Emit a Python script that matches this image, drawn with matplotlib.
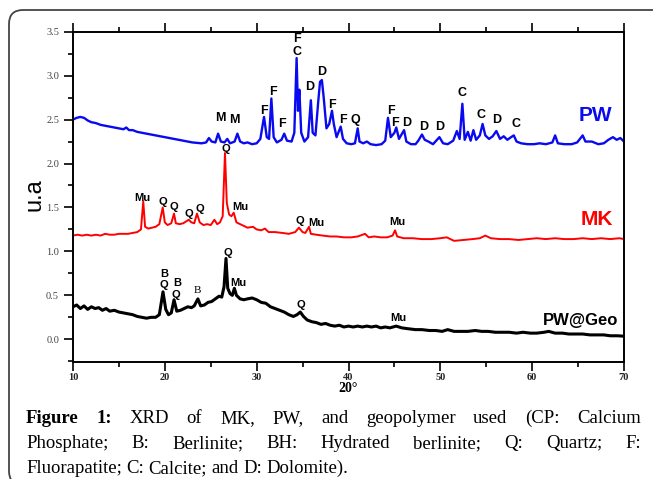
import numpy as np
import matplotlib
matplotlib.use('Agg')
import matplotlib.pyplot as plt
import matplotlib.patches as mpatches
from matplotlib.transforms import IdentityTransform

# PW (blue) pattern
pw_x = [10.0, 10.4, 10.8, 11.2, 11.6, 12.0, 12.5, 13.0, 13.5, 14.0, 14.5, 15.0, 15.5, 15.8, 16.1,
        16.5, 17.0, 17.5, 18.0, 18.5, 19.0, 19.5, 20.0, 20.5, 21.0, 21.5, 22.0, 22.5, 23.0, 23.5,
        24.0, 24.5, 24.8, 25.1, 25.5, 25.8, 26.1, 26.5, 26.8, 27.1, 27.6, 27.9, 28.2, 28.6, 29.0,
        29.5, 30.0, 30.4, 30.8, 31.1, 31.35, 31.6, 31.85, 32.2, 32.7, 33.0, 33.3, 33.8, 34.1, 34.35,
        34.5, 34.65, 34.85, 35.2, 35.6, 35.9, 36.1, 36.4, 36.7, 36.9, 37.1, 37.3, 37.6, 37.9, 38.2,
        38.4, 38.7, 39.15, 39.4, 39.8, 40.3, 40.7, 41.0, 41.2, 41.6, 42.0, 42.4, 43.0, 43.6, 44.0,
        44.3, 44.6, 45.0, 45.2, 45.5, 46.05, 46.3, 46.8, 47.3, 47.6, 48.0, 48.3, 48.7, 49.2, 49.9,
        50.3, 50.8, 51.4, 51.8, 52.1, 52.4, 52.65, 53.0, 53.3, 53.6, 53.9, 54.3, 54.6, 54.9, 55.3,
        55.7, 56.1, 56.5, 56.9, 57.3, 57.7, 58.0, 58.3, 58.8, 59.5, 60.2, 60.8, 61.5, 62.2, 62.5,
        62.8, 63.5, 64.3, 64.9, 65.5, 65.8, 66.5, 67.2, 67.8, 68.3, 68.8, 69.2, 69.6, 70.0]
pw_y = [2.50, 2.52, 2.53, 2.52, 2.49, 2.47, 2.46, 2.44, 2.43, 2.42, 2.41, 2.40, 2.39, 2.41, 2.38,
        2.38, 2.36, 2.35, 2.34, 2.33, 2.32, 2.31, 2.30, 2.29, 2.28, 2.27, 2.26, 2.25, 2.24, 2.235,
        2.23, 2.24, 2.29, 2.25, 2.24, 2.34, 2.25, 2.24, 2.28, 2.23, 2.25, 2.34, 2.25, 2.23, 2.24,
        2.22, 2.23, 2.28, 2.53, 2.30, 2.28, 2.74, 2.30, 2.24, 2.27, 2.34, 2.26, 2.25, 2.35, 3.20,
        2.60, 2.84, 2.35, 2.25, 2.30, 2.72, 2.35, 2.32, 2.70, 2.93, 2.95, 2.75, 2.40, 2.45, 2.60,
        2.45, 2.30, 2.42, 2.28, 2.23, 2.22, 2.23, 2.40, 2.25, 2.23, 2.25, 2.22, 2.21, 2.22, 2.26,
        2.52, 2.30, 2.35, 2.41, 2.28, 2.38, 2.25, 2.22, 2.22, 2.26, 2.33, 2.27, 2.25, 2.22, 2.30,
        2.23, 2.22, 2.26, 2.37, 2.28, 2.68, 2.27, 2.36, 2.26, 2.38, 2.27, 2.32, 2.45, 2.32, 2.28,
        2.31, 2.37, 2.28, 2.31, 2.27, 2.30, 2.32, 2.25, 2.23, 2.22, 2.22, 2.23, 2.22, 2.24, 2.32,
        2.23, 2.22, 2.22, 2.24, 2.32, 2.25, 2.25, 2.22, 2.23, 2.27, 2.30, 2.27, 2.29, 2.25]

# MK (red)
mk_x = [10.0, 10.5, 11.0, 11.5, 12.0, 12.5, 13.0, 13.5, 14.0, 14.5, 15.0, 15.5, 16.0, 16.5, 17.0,
        17.4, 17.65, 17.85, 18.2, 18.6, 19.0, 19.4, 19.77, 20.0, 20.3, 20.7, 21.0, 21.2, 21.6, 22.0,
        22.3, 22.6, 22.9, 23.2, 23.5, 23.8, 24.2, 24.6, 25.0, 25.4, 25.7, 26.0, 26.3, 26.55, 26.75,
        27.0, 27.25, 27.5, 27.8, 28.2, 28.6, 29.0, 29.6, 30.0, 30.5, 30.9, 31.3, 32.0, 32.8, 33.5,
        34.2, 34.6, 35.0, 35.3, 35.7, 35.9, 36.5, 37.2, 38.0, 38.7, 39.5, 40.3, 41.0, 41.8, 42.2,
        42.8, 43.5, 44.2, 44.8, 45.07, 45.3, 46.0, 47.0, 48.0, 49.0, 50.0, 50.7, 51.5, 52.5, 53.5,
        54.3, 54.9, 55.5, 56.5, 57.5, 58.5, 59.5, 60.5, 61.5, 62.5, 63.5, 64.5, 65.5, 66.5, 67.5,
        68.5, 69.5, 70.0]
mk_y = [1.18, 1.19, 1.18, 1.19, 1.18, 1.19, 1.18, 1.20, 1.19, 1.19, 1.20, 1.20, 1.20, 1.21, 1.22,
        1.25, 1.57, 1.28, 1.26, 1.27, 1.28, 1.31, 1.50, 1.33, 1.30, 1.32, 1.43, 1.32, 1.31, 1.32,
        1.34, 1.36, 1.33, 1.32, 1.43, 1.33, 1.30, 1.31, 1.30, 1.36, 1.31, 1.33, 1.40, 2.12, 1.55,
        1.42, 1.40, 1.44, 1.33, 1.31, 1.29, 1.27, 1.28, 1.25, 1.24, 1.26, 1.22, 1.22, 1.21, 1.20,
        1.22, 1.27, 1.22, 1.21, 1.28, 1.20, 1.19, 1.18, 1.17, 1.17, 1.16, 1.16, 1.17, 1.20, 1.16,
        1.17, 1.16, 1.16, 1.18, 1.24, 1.17, 1.15, 1.15, 1.14, 1.14, 1.15, 1.16, 1.12, 1.13, 1.14,
        1.15, 1.18, 1.15, 1.14, 1.14, 1.13, 1.14, 1.15, 1.14, 1.15, 1.14, 1.14, 1.15, 1.14, 1.15,
        1.14, 1.15, 1.14]

# PW@Geo (black)
geo_x = [10.0, 10.4, 10.8, 11.2, 11.6, 12.0, 12.4, 12.8, 13.2, 13.6, 14.0, 14.5, 15.0, 15.5, 16.0,
         16.5, 17.0, 17.5, 18.0, 18.5, 19.0, 19.4, 19.8, 20.1, 20.4, 20.7, 21.0, 21.3, 21.7, 22.1,
         22.5, 22.9, 23.2, 23.6, 23.9, 24.3, 24.7, 25.1, 25.5, 25.9, 26.2, 26.45, 26.66, 26.85, 27.1,
         27.35, 27.57, 27.8, 28.2, 28.6, 29.0, 29.5, 30.0, 30.5, 31.0, 31.5, 32.0, 32.5, 33.0, 33.5,
         34.0, 34.4, 34.75, 35.1, 35.5, 36.0, 36.5, 37.0, 37.5, 38.0, 38.5, 39.0, 39.5, 40.0, 40.5,
         41.0, 41.5, 42.0, 42.5, 43.0, 43.5, 44.0, 44.5, 45.2, 45.8, 46.5, 47.3, 48.0, 48.8, 49.5,
         50.2, 50.8, 51.5, 52.3, 53.0, 53.8, 54.5, 55.2, 56.0, 56.8, 57.5, 58.3, 59.0, 59.8, 60.5,
         61.3, 61.8, 62.5, 63.3, 64.0, 64.8, 65.5, 66.3, 67.0, 67.8, 68.5, 69.3, 70.0]
geo_y = [0.37, 0.39, 0.35, 0.38, 0.34, 0.37, 0.35, 0.36, 0.33, 0.35, 0.32, 0.33, 0.31, 0.30, 0.29,
         0.28, 0.26, 0.25, 0.24, 0.25, 0.25, 0.28, 0.54, 0.34, 0.28, 0.30, 0.45, 0.32, 0.33, 0.35,
         0.37, 0.36, 0.38, 0.46, 0.38, 0.39, 0.42, 0.43, 0.46, 0.49, 0.48, 0.60, 0.92, 0.58, 0.52,
         0.50, 0.58, 0.50, 0.46, 0.45, 0.46, 0.47, 0.45, 0.42, 0.41, 0.37, 0.35, 0.33, 0.31, 0.28,
         0.26, 0.28, 0.31, 0.26, 0.22, 0.20, 0.19, 0.17, 0.18, 0.16, 0.15, 0.16, 0.14, 0.15, 0.14,
         0.15, 0.14, 0.15, 0.14, 0.15, 0.13, 0.14, 0.13, 0.15, 0.13, 0.12, 0.11, 0.11, 0.10, 0.10,
         0.09, 0.11, 0.09, 0.09, 0.09, 0.10, 0.09, 0.09, 0.08, 0.08, 0.08, 0.07, 0.08, 0.07, 0.07,
         0.08, 0.09, 0.07, 0.07, 0.06, 0.06, 0.06, 0.05, 0.05, 0.05, 0.04, 0.04, 0.035]

# phase labels: (text, 2theta, height)
pw_tags = [('M', 26.0, 2.52), ('M', 27.6, 2.49), ('F', 30.8, 2.60), ('F', 31.75, 2.81),
           ('F', 32.8, 2.45), ('F', 34.35, 3.42), ('C', 34.35, 3.27), ('D', 35.8, 2.87),
           ('D', 37.1, 3.04), ('F', 38.2, 2.67), ('F', 39.4, 2.50), ('Q', 40.8, 2.50),
           ('F', 44.6, 2.60), ('F', 45.1, 2.46), ('D', 46.3, 2.46), ('D', 48.15, 2.41),
           ('D', 49.96, 2.41), ('C', 52.4, 2.80), ('C', 54.4, 2.55), ('D', 56.1, 2.49),
           ('C', 58.2, 2.45)]
mk_tags = [('Mu', 17.6, 1.61), ('Q', 19.8, 1.56), ('Q', 21.0, 1.51), ('Q', 22.6, 1.43),
           ('Q', 23.8, 1.48), ('Q', 26.6, 2.16), ('Mu', 28.2, 1.51), ('Q', 34.7, 1.35),
           ('Mu', 36.5, 1.32), ('Mu', 45.3, 1.34)]
geo_tags = [('B', 19.95, 0.74), ('Q', 19.95, 0.62), ('B', 21.4, 0.64), ('Q', 21.2, 0.50),
            ('Q', 26.9, 0.98), ('Mu', 28.0, 0.64), ('Q', 34.8, 0.39), ('Mu', 45.4, 0.24)]
geo_serif_tag = ('B', 23.5, 0.55)

W, H = 653, 479
fig = plt.figure(figsize=(W / 100, H / 100), dpi=100)
ax = fig.add_axes([73 / W, 1 - 361.7 / H, 551 / W, 330 / H])

ax.plot(pw_x, pw_y, color='#0a0af0', lw=1.7)
ax.plot(mk_x, mk_y, color='#ff0000', lw=1.4)
ax.plot(geo_x, geo_y, color='black', lw=2.2)

sans = 'Liberation Sans'
serif = 'Liberation Serif'
for t, x, y in pw_tags:
    ax.text(x, y, t, fontsize=9, fontweight='bold', family=sans, ha='center', va='center')
for t, x, y in mk_tags + geo_tags:
    ax.text(x, y, t, fontsize=8, fontweight='bold', family=sans, ha='center', va='center')
ax.text(geo_serif_tag[1], geo_serif_tag[2], geo_serif_tag[0], fontsize=8, family=serif,
        ha='center', va='center')

ax.text(66.9, 2.55, 'PW', color='#0a0af0', fontsize=15, fontweight='bold', family=sans, ha='center', va='center')
ax.text(67.0, 1.36, 'MK', color='#ff0000', fontsize=15, fontweight='bold', family=sans, ha='center', va='center')
ax.text(65.3, 0.21, 'PW@Geo', color='black', fontsize=12, fontweight='bold', family=sans, ha='center', va='center')

ax.set_xlim(10, 70)
ax.set_ylim(-0.255, 3.5)
ax.set_xticks(np.arange(10, 71, 10))
ax.set_xticks(np.arange(15, 70, 10), minor=True)
ax.set_yticks(np.arange(0, 3.51, 0.5))
ax.set_yticks(np.arange(-0.25, 3.5, 0.5), minor=True)
ax.set_yticklabels(['%.1f' % v for v in np.arange(0, 3.51, 0.5)], family=serif, fontsize=7.5, color='#444444')
ax.set_xticklabels([str(v) for v in range(10, 71, 10)], family=serif, fontsize=7.5, fontweight='bold', color='#222222')
ax.tick_params(which='both', direction='out', top=True, right=False, width=1.2)
ax.tick_params(which='major', length=6.5)
ax.tick_params(which='minor', length=3.3)
ax.tick_params(axis='x', pad=1.5)
for s in ax.spines.values():
    s.set_linewidth(1.4)

ax.text(0.5, -(389 - 361.7) / 330, '20°', transform=ax.transAxes, ha='center', va='center',
        fontsize=10, fontweight='bold', family=serif)
ax.text(-0.069, 0.505, 'u.a', transform=ax.transAxes, ha='center', va='center',
        rotation=90, fontsize=17, family=sans)

# rounded frame, open to the right and bottom
frame = mpatches.FancyBboxPatch((9, -6), 720, H - 10 + 6, boxstyle='round,pad=0,rounding_size=14',
                                transform=IdentityTransform(), fill=False, edgecolor='#444444', lw=1.3)
fig.patches.append(frame)

# justified caption
cap_lines = [
    [('Figure', True), ('1:', True), ('XRD', False), ('of', False), ('MK,', False), ('PW,', False),
     ('and', False), ('geopolymer', False), ('used', False), ('(CP:', False), ('Calcium', False)],
    [('Phosphate;', False), ('B:', False), ('Berlinite;', False), ('BH:', False), ('Hydrated', False),
     ('berlinite;', False), ('Q:', False), ('Quartz;', False), ('F:', False)],
    [('Fluorapatite;', False), ('C:', False), ('Calcite;', False), ('and', False), ('D:', False),
     ('Dolomite).', False)],
]
cap_base = [423, 448, 473]
x0, x1 = 26, 641
renderer = fig.canvas.get_renderer()
for li, words in enumerate(cap_lines):
    texts = []
    for w, b in words:
        t = fig.text(0, 1 - cap_base[li] / H, w, fontsize=13.5, family=serif,
                     fontweight='bold' if b else 'normal', va='baseline', ha='left')
        texts.append(t)
    widths = [t.get_window_extent(renderer).width for t in texts]
    if li < len(cap_lines) - 1:
        gap = (x1 - x0 - sum(widths)) / (len(texts) - 1)
    else:
        gap = 4.5
    pos = x0
    for t, wd in zip(texts, widths):
        t.set_x(pos / W)
        pos += wd + gap

fig.savefig('out.png', dpi=100)
